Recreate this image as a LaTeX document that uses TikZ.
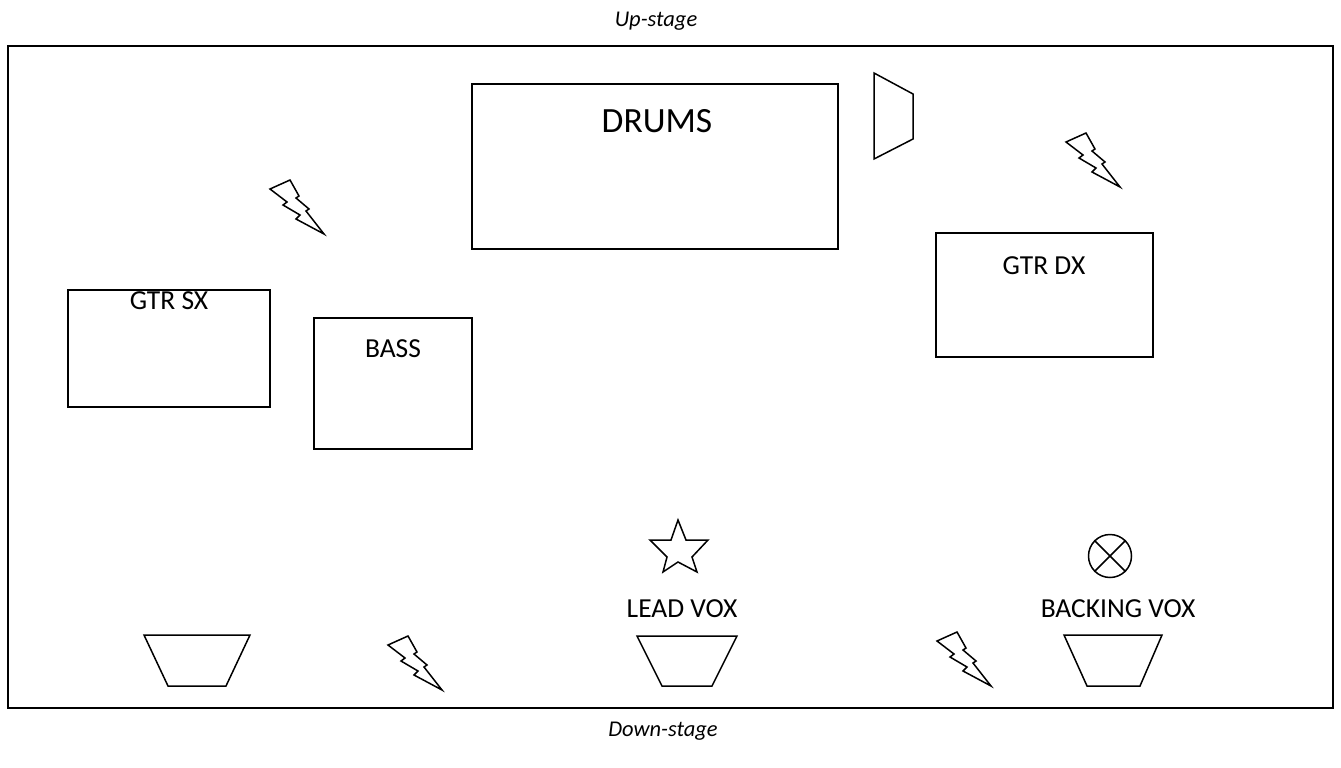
\documentclass[tikz,border=0pt]{standalone}
\usepackage{fontspec}
\setmainfont{Carlito}
\begin{document}
\begin{tikzpicture}[x=1pt,y=-1pt,
  ln/.style={line width=1.5pt, line join=miter},
  box/.style={draw, ln, rectangle, inner sep=0pt, outer sep=0pt},
  lbl/.style={anchor=base, inner sep=0pt, font=\fontsize{27.5}{32}\selectfont},
  big/.style={anchor=base, inner sep=0pt, font=\fontsize{35.5}{40}\selectfont},
  side/.style={anchor=base, inner sep=0pt, font=\fontsize{22.5}{26}\selectfont\itshape},
  bolt/.pic={\draw[ln] (0,0) -- (20,-9) -- (29,7) -- (26,9) -- (39,20) -- (36,22) -- (54,45) -- (26,30) -- (30,26) -- (13,16) -- (17,13) -- cycle;}
]
\useasboundingbox (0,0) rectangle (1341,768);
% stage
\node[box, minimum width=1325pt, minimum height=662pt] (stage) at (670.5,377) {};
\node[side] (up) at (656,27) {Up-stage};
\node[side] (down) at (663,736) {Down-stage};
% boxes
\node[box, minimum width=366pt, minimum height=165pt] (drums) at (655,166.5) {};
\node[big] (drumslbl) at (657,132) {DRUMS};
\node[box, minimum width=217pt, minimum height=124pt] (gtrdx) at (1044.5,295) {};
\node[lbl] (gtrdxlbl) at (1044,274) {GTR DX};
\node[box, minimum width=202pt, minimum height=117pt] (gtrsx) at (169,348.5) {};
\node[lbl] (gtrsxlbl) at (169,309) {GTR SX};
\node[box, minimum width=158pt, minimum height=131pt] (bass) at (393,383.5) {};
\node[lbl] (basslbl) at (393,357) {BASS};
% drum fill / side monitor
\draw[ln] (874,73) -- (913,94) -- (913,139) -- (874,159) -- cycle;
% bolts
\pic at (270,189) {bolt};
\pic at (1066,142) {bolt};
\pic at (388,645) {bolt};
\pic at (937,641) {bolt};
% star
\draw[ln] (678,520) -- (686,540) -- (708,540) -- (692,557) -- (697,572) -- (678,562) -- (663,572) -- (667,557) -- (650,540) -- (671,540) -- cycle;
\node[lbl] (leadlbl) at (682,617) {LEAD VOX};
% circle X
\node[draw, ln, circle, minimum size=43pt, inner sep=0pt] (cx) at (1110,556) {};
\draw[ln] (cx.north east) -- (cx.south west);
\draw[ln] (cx.north west) -- (cx.south east);
\node[lbl] (backlbl) at (1118,617) {BACKING VOX};
% monitors
\draw[ln] (144,635) -- (250,635) -- (226,686) -- (168,686) -- cycle;
\draw[ln] (637,636) -- (737,636) -- (712,686) -- (662,686) -- cycle;
\draw[ln] (1064,635) -- (1162,635) -- (1140,686) -- (1087,686) -- cycle;
\end{tikzpicture}
\end{document}
